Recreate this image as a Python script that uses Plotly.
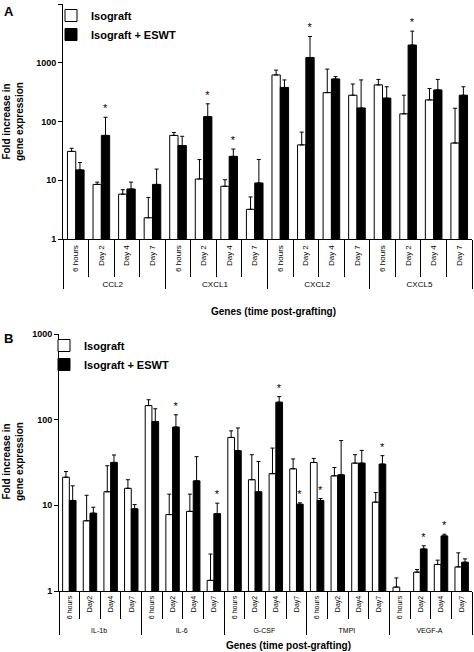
import plotly.graph_objects as go

# ---------------- Panel A data ----------------
genes_a = ["CCL2", "CXCL1", "CXCL2", "CXCL5"]
times_a = ["6 hours", "Day 2", "Day 4", "Day 7"]
iso_a = [31, 8.5, 5.8, 2.3, 58, 10.5, 7.9, 3.2, 620, 40, 310, 280, 420, 135, 233, 43]
iso_a_top = [35, 9.3, 6.9, 5.1, 65, 22.5, 10.2, 5.2, 750, 66, 780, 435, 520, 280, 365, 168]
eswt_a = [15, 58, 7.1, 8.5, 39, 121, 25.5, 9.0, 380, 1230, 530, 170, 250, 2000, 345, 280]
eswt_a_top = [20, 118, 9.3, 15.5, 56, 200, 34, 22.5, 510, 2800, 580, 510, 390, 3450, 520, 390]
sig_a = [0, 1, 0, 0, 0, 1, 1, 0, 0, 1, 0, 0, 0, 1, 0, 0]

# ---------------- Panel B data ----------------
genes_b = ["IL-1b", "IL-6", "G-CSF", "TMPI", "VEGF-A"]
times_b = ["6 hours", "Day2", "Day4", "Day7"]
iso_b = [21.3, 6.6, 14.4, 15.8, 146, 7.8, 8.5, 1.33, 62, 19.9, 23.4, 26.7,
         31.6, 22.1, 31.1, 10.9, 1.11, 1.66, 2.04, 1.91]
iso_b_top = [24.8, 13.1, 29, 19.9, 171, 13.5, 13.5, 2.7, 74, 39, 46.6, 34.8,
             35.3, 27.6, 39, 14.1, 1.42, 1.78, 2.29, 2.79]
eswt_b = [11.4, 8.1, 31.7, 9.1, 95, 82, 19.3, 8.0, 43.5, 14.4, 160, 10.3,
          11.4, 22.7, 31.1, 30.3, None, 3.1, 4.4, 2.17]
eswt_b_top = [16.9, 9.5, 38.7, 10.2, 134, 114, 37, 10.6, 80, 32.5, 186, 10.7,
              12, 57, 43.8, 38, None, 3.37, 4.6, 2.37]
sig_b = [0, 0, 0, 0, 0, 1, 0, 1, 0, 0, 1, 1, 1, 0, 0, 1, 0, 1, 1, 0]

FONT = "Liberation Sans, Arial, sans-serif"


def multicat(genes, times):
    g = [gene for gene in genes for _ in times]
    t = [tm for _ in genes for tm in times]
    return [g, t]


def plus(vals, tops):
    return [None if v is None else (t - v) for v, t in zip(vals, tops)]


fig = go.Figure()


def add_panel(genes, times, iso, iso_top, eswt, eswt_top, sig, xa, ya, leg, show_leg):
    x = multicat(genes, times)
    fig.add_trace(go.Bar(
        x=x, y=iso, name="Isograft", xaxis=xa, yaxis=ya, legend=leg,
        offsetgroup="iso", showlegend=show_leg,
        marker=dict(color="white", line=dict(color="black", width=1)),
        error_y=dict(type="data", symmetric=False, array=plus(iso, iso_top),
                     arrayminus=[0] * len(iso), color="black", thickness=1, width=2),
    ))
    fig.add_trace(go.Bar(
        x=x, y=eswt, name="Isograft + ESWT", xaxis=xa, yaxis=ya, legend=leg,
        offsetgroup="eswt", showlegend=show_leg,
        marker=dict(color="black", line=dict(color="black", width=1)),
        error_y=dict(type="data", symmetric=False, array=plus(eswt, eswt_top),
                     arrayminus=[0] * len(eswt), color="black", thickness=1, width=2),
    ))
    # significance stars placed above the ESWT error bars
    fig.add_trace(go.Bar(
        x=x, y=[t if s else None for t, s in zip(eswt_top, sig)],
        text=["*" if s else "" for s in sig], textposition="outside",
        outsidetextfont=dict(color="black", size=11, family=FONT),
        constraintext="none", cliponaxis=False,
        xaxis=xa, yaxis=ya, offsetgroup="eswt", showlegend=False,
        marker=dict(color="rgba(0,0,0,0)", line=dict(width=0)),
        hoverinfo="skip",
    ))


add_panel(genes_a, times_a, iso_a, iso_a_top, eswt_a, eswt_a_top, sig_a, "x", "y", "legend", True)
add_panel(genes_b, times_b, iso_b, iso_b_top, eswt_b, eswt_b_top, sig_b, "x2", "y2", "legend2", True)

W, H = 474, 652

xcommon = dict(
    automargin=False,
    showline=True, linecolor="black", linewidth=1, ticks="outside",
    tickson="boundaries", tickangle=-90, tickcolor="black", tickwidth=1,
    showdividers=True, dividercolor="black", dividerwidth=1, showgrid=False,
)
ycommon = dict(
    automargin=False,
    type="log", showline=True, linecolor="black", linewidth=1, ticks="outside",
    ticklen=4, tickcolor="black", showgrid=False, zeroline=False,
    tickfont=dict(size=9, family=FONT, color="black", weight="bold"),
)

fig.update_layout(
    width=W, height=H,
    margin=dict(l=0, r=0, t=0, b=0),
    paper_bgcolor="white", plot_bgcolor="white",
    barmode="group", bargap=0.35, bargroupgap=0,
    font=dict(family=FONT, color="black"),
    xaxis=dict(domain=[63 / W, 472 / W], anchor="y", ticklen=37, ticklabelstandoff=2,
               tickfont=dict(size=8, family=FONT, color="black"), **xcommon),
    yaxis=dict(domain=[1 - 239 / H, 1 - 4 / H], anchor="x", range=[0, 4],
               tickvals=[1, 10, 100, 1000, 10000],
               ticktext=["1", "10", "100", "1000", "10000"], **ycommon),
    xaxis2=dict(domain=[59 / W, 472 / W], anchor="y2", ticklen=27, ticklabelstandoff=1,
                tickfont=dict(size=7, family=FONT, color="black"), **xcommon),
    yaxis2=dict(domain=[1 - 591 / H, 1 - 334 / H], anchor="x2", range=[0, 3],
                tickvals=[1, 10, 100, 1000],
                ticktext=["1", "10", "100", "1000"], **ycommon),
    legend=dict(x=51 / W, y=1 - 1 / H, xanchor="left", yanchor="top",
                bgcolor="rgba(0,0,0,0)",
                font=dict(size=11, family=FONT, weight="bold")),
    legend2=dict(x=44 / W, y=1 - 331 / H, xanchor="left", yanchor="top",
                 bgcolor="rgba(0,0,0,0)",
                 font=dict(size=11, family=FONT, weight="bold")),
    showlegend=True,
)

anns = [
    dict(text="<b>A</b>", x=2 / W, y=1 - 2 / H, xanchor="left", yanchor="top", font=dict(size=13)),
    dict(text="<b>B</b>", x=2 / W, y=1 - 329 / H, xanchor="left", yanchor="top", font=dict(size=13)),
    dict(text="<b>Fold increase in<br>gene expression</b>", x=13 / W, y=1 - 122 / H,
         textangle=-90, xanchor="center", yanchor="middle", font=dict(size=10)),
    dict(text="<b>Fold increase in<br>gene expression</b>", x=13 / W, y=1 - 462 / H,
         textangle=-90, xanchor="center", yanchor="middle", font=dict(size=10)),
    dict(text="<b>Genes (time post-grafting)</b>", x=273 / W, y=1 - 311 / H,
         xanchor="center", yanchor="middle", font=dict(size=10)),
    dict(text="<b>Genes (time post-grafting)</b>", x=288 / W, y=1 - 645 / H,
         xanchor="center", yanchor="middle", font=dict(size=10)),
]
for a in anns:
    a.update(xref="paper", yref="paper", showarrow=False)
    a["font"].update(family=FONT, color="black")
fig.update_layout(annotations=anns)

fig.write_html("out.html", config={"displayModeBar": False},
               post_script="document.body.style.margin='0px';")
